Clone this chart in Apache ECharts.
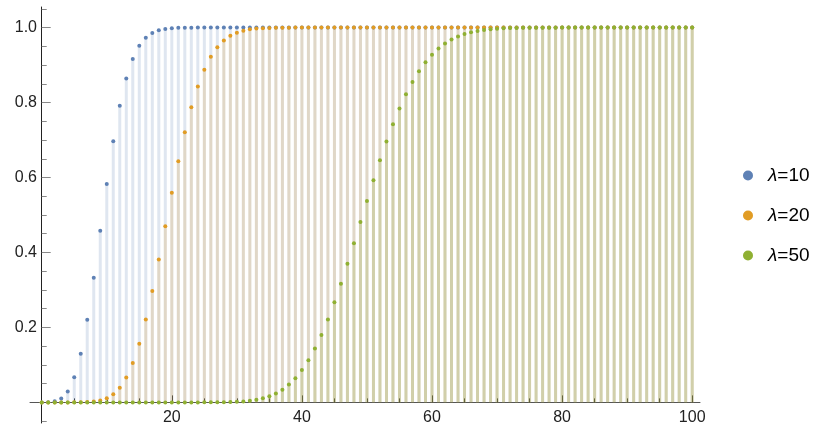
<!DOCTYPE html>
<html>
<head>
<meta charset="utf-8">
<script src="https://cdn.jsdelivr.net/npm/echarts@6/dist/echarts.min.js"></script>
<style>
  html, body { margin: 0; padding: 0; background: #fff; }
  #chart { width: 828px; height: 430px; }
</style>
</head>
<body>
<div id="chart"></div>
<script>
// 泊松分布累积概率，k = 0..100
const lam10 = [
  0, 0.0005, 0.0028, 0.0103, 0.0293, 0.0671, 0.1301, 0.2202, 0.3328, 0.4579,
  0.5830, 0.6968, 0.7916, 0.8645, 0.9165, 0.9513, 0.9730, 0.9857, 0.9928, 0.9965,
  0.9984, 0.9993, 0.9997, 0.9999, 1, 1, 1, 1, 1, 1,
  1, 1, 1, 1, 1, 1, 1, 1, 1, 1,
  1, 1, 1, 1, 1, 1, 1, 1, 1, 1,
  1, 1, 1, 1, 1, 1, 1, 1, 1, 1,
  1, 1, 1, 1, 1, 1, 1, 1, 1, 1,
  1, 1, 1, 1, 1, 1, 1, 1, 1, 1,
  1, 1, 1, 1, 1, 1, 1, 1, 1, 1,
  1, 1, 1, 1, 1, 1, 1, 1, 1, 1,
  1
]
const lam20 = [
  0, 0, 0, 0, 0, 0.0001, 0.0003, 0.0008, 0.0021, 0.0050,
  0.0108, 0.0214, 0.0390, 0.0661, 0.1049, 0.1565, 0.2211, 0.2970, 0.3814, 0.4703,
  0.5591, 0.6437, 0.7206, 0.7875, 0.8432, 0.8878, 0.9221, 0.9475, 0.9657, 0.9782,
  0.9865, 0.9919, 0.9953, 0.9973, 0.9985, 0.9992, 0.9996, 0.9998, 0.9999, 1,
  1, 1, 1, 1, 1, 1, 1, 1, 1, 1,
  1, 1, 1, 1, 1, 1, 1, 1, 1, 1,
  1, 1, 1, 1, 1, 1, 1, 1, 1, 1,
  1, 1, 1, 1, 1, 1, 1, 1, 1, 1,
  1, 1, 1, 1, 1, 1, 1, 1, 1, 1,
  1, 1, 1, 1, 1, 1, 1, 1, 1, 1,
  1
]
const lam50 = [
  0, 0, 0, 0, 0, 0, 0, 0, 0, 0,
  0, 0, 0, 0, 0, 0, 0, 0, 0, 0,
  0, 0, 0, 0, 0, 0.0001, 0.0001, 0.0003, 0.0005, 0.0009,
  0.0016, 0.0027, 0.0044, 0.0070, 0.0108, 0.0162, 0.0238, 0.0340, 0.0474, 0.0646,
  0.0861, 0.1123, 0.1435, 0.1798, 0.2210, 0.2669, 0.3167, 0.3697, 0.4249, 0.4812,
  0.5375, 0.5927, 0.6458, 0.6959, 0.7423, 0.7844, 0.8221, 0.8551, 0.8836, 0.9077,
  0.9278, 0.9443, 0.9576, 0.9682, 0.9764, 0.9827, 0.9875, 0.9911, 0.9938, 0.9957,
  0.9970, 0.9980, 0.9987, 0.9991, 0.9994, 0.9996, 0.9998, 0.9998, 0.9999, 0.9999,
  1, 1, 1, 1, 1, 1, 1, 1, 1, 1,
  1, 1, 1, 1, 1, 1, 1, 1, 1, 1,
  1
]
const seriesNames = ['λ=10', 'λ=20', 'λ=50']
const seriesColors = ['#5E81B5', '#E19C24', '#8FB032']
const stemColors = ['rgba(94,129,181,0.2)', 'rgba(225,156,36,0.2)', 'rgba(143,176,50,0.2)']
const xMajor = [20, 40, 60, 80, 100]
const xMinor = [5, 10, 15, 25, 30, 35, 45, 50, 55, 65, 70, 75, 85, 90, 95]
const yLabels = [0.2, 0.4, 0.6, 0.8, 1.0]
const yMinor = [-0.05, 0.05, 0.1, 0.15, 0.25, 0.3, 0.35, 0.45, 0.5, 0.55, 0.65, 0.7, 0.75, 0.85, 0.9, 0.95, 1.05]

const allData = [lam10, lam20, lam50]
const toPairs = (arr) => arr.map((v, i) => [i, v])

const myChart = echarts.init(document.getElementById('chart'))
const font = 'Liberation Sans, Arial, sans-serif'

const stems = allData.map((arr, i) => ({
  name: 'stem' + i,
  type: 'bar',
  data: toPairs(arr),
  barWidth: 3,
  barGap: '-100%',
  itemStyle: { color: stemColors[i] },
  silent: true,
  z: 2
}))
const dots = allData.map((arr, i) => ({
  name: seriesNames[i],
  type: 'scatter',
  data: toPairs(arr),
  symbolSize: 4,
  itemStyle: { color: seriesColors[i], opacity: 1 },
  z: 5
}))

const option = {
  animation: false,
  textStyle: { fontFamily: font },
  grid: { left: 30, top: 7, width: 670, height: 416, outerBoundsMode: 'none', containLabel: false },
  legend: {
    data: seriesNames,
    orient: 'vertical',
    left: 738,
    top: 161,
    icon: 'circle',
    itemWidth: 10,
    itemHeight: 10,
    itemGap: 21,
    itemStyle: { opacity: 1 },
    formatter: (name) => '{i|λ}{n|' + name.slice(1) + '}',
    textStyle: {
      fontSize: 19,
      color: '#000',
      padding: [0, 0, 0, 10],
      rich: {
        i: { fontSize: 19, fontStyle: 'italic', fontFamily: font, color: '#000' },
        n: { fontSize: 19, fontFamily: font, color: '#000' }
      }
    }
  },
  xAxis: [
    {
      type: 'value',
      min: -1.8,
      max: 101.2,
      axisLine: { onZero: true, lineStyle: { color: '#555', width: 1 } },
      axisTick: { inside: true, length: 7, customValues: xMajor, lineStyle: { color: '#333' } },
      // 标签按网格底边定位，用负 margin 拉回到 y=0 的轴线下方
      axisLabel: { customValues: xMajor, fontSize: 16, color: '#222', margin: -13 },
      splitLine: { show: false }
    },
    {
      type: 'value',
      position: 'bottom',
      min: -1.8,
      max: 101.2,
      axisLine: { show: false, onZero: true },
      axisTick: { inside: true, length: 4, customValues: xMinor, lineStyle: { color: '#333' } },
      axisLabel: { show: false },
      splitLine: { show: false }
    }
  ],
  yAxis: [
    {
      type: 'value',
      min: -0.055,
      max: 1.055,
      axisLine: { show: true, onZero: true, lineStyle: { color: '#222', width: 1 } },
      axisTick: { inside: true, length: 9, customValues: yLabels, lineStyle: { color: '#888' } },
      axisLabel: { customValues: yLabels, fontSize: 16, color: '#222', margin: -7, formatter: (v) => v.toFixed(1) },
      splitLine: { show: false }
    },
    {
      type: 'value',
      position: 'left',
      min: -0.055,
      max: 1.055,
      axisLine: { show: false, onZero: true },
      axisTick: { inside: true, length: 5, customValues: yMinor, lineStyle: { color: '#888' } },
      axisLabel: { show: false },
      splitLine: { show: false }
    }
  ],
  series: stems.concat(dots)
}
myChart.setOption(option)
</script>
</body>
</html>
